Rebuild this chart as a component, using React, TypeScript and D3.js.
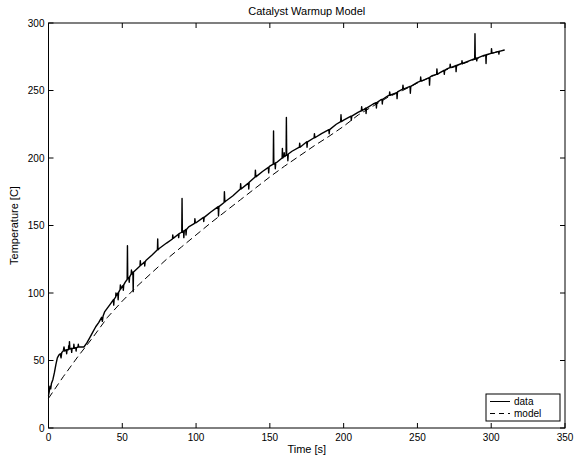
import React from "react";
import * as d3 from "d3";

const W = 584;
const H = 462;

const titleText = "Catalyst Warmup Model";
const xLabel = "Time [s]";
const yLabel = "Temperature [C]";
const xTicks = [0, 50, 100, 150, 200, 250, 300, 350];
const yTicks = [0, 50, 100, 150, 200, 250, 300];
const legendNames = ["data", "model"];

// Measured data (time [s], temperature [C]) including the sensor spikes
const dataPoints: [number, number][] = [
  [0, 24], [0.5, 27], [1, 31], [1.5, 29], [2, 33], [3, 36], [4, 41], [5, 47], [6, 52], [7, 54], [8, 55],
  [8.5, 52], [9, 56], [10, 57], [10.5, 60], [11, 57], [12, 58], [12.3, 55], [12.6, 58], [13.5, 58],
  [13.7, 61], [14, 58.5], [14.2, 64], [14.5, 58.5], [15.5, 59], [15.7, 56], [16, 59], [17, 59], [17.2, 62],
  [17.5, 59], [18.5, 59.5], [18.7, 57], [19, 59.5], [20, 60], [20.2, 62], [20.5, 60], [22, 60], [24, 60],
  [26, 63], [28, 67], [30, 71], [32, 75], [34, 78], [36, 82], [36.5, 79], [37, 83], [38, 86], [40, 89],
  [42, 92], [44, 95], [44.2, 91], [44.5, 95.5], [45.5, 97], [45.7, 100], [46, 98], [47, 100], [47.2, 95],
  [47.5, 100.5], [48.5, 102.5], [48.7, 106], [49, 103], [50, 105], [50.5, 105.5], [50.7, 102], [51, 106],
  [52, 108], [53.3, 110], [53.5, 135], [53.7, 110.5], [54.5, 111.5], [54.7, 108], [55, 112], [56, 114],
  [56.2, 117], [56.5, 114], [57.2, 115.5], [57.4, 101], [57.6, 115.5], [58, 116], [60, 118], [62, 120],
  [62.2, 124], [62.5, 120.5], [63, 121], [65, 123], [65.2, 120], [65.5, 123], [66, 124], [70, 128],
  [73.8, 132], [74, 140], [74.2, 132], [75, 133], [80, 137], [84, 140], [84.2, 143], [84.5, 140.5],
  [88, 143.5], [88.2, 141], [88.5, 144], [90.3, 145], [90.5, 170], [90.7, 145], [91.5, 146], [91.7, 141],
  [92, 146], [93, 147], [93.2, 143], [93.5, 147], [95, 149], [99, 151.5], [99.2, 155], [99.5, 152],
  [100, 152], [105, 156], [105.2, 153], [105.5, 156], [110, 160], [115, 164], [115.2, 157], [115.5, 164],
  [119, 167], [119.2, 175], [119.5, 167.5], [120, 168], [125, 172], [130, 177], [130.2, 181], [130.5, 177],
  [135, 181], [135.5, 181.5], [135.7, 177], [136, 182], [140, 186], [140.2, 191], [140.5, 186], [145, 190],
  [149, 193], [149.2, 189], [149.5, 193.5], [150, 194], [152.3, 195.5], [152.5, 220], [152.7, 195.5],
  [153.5, 196], [153.7, 192], [154, 196.5], [155, 197], [158.3, 200], [158.5, 207], [158.7, 200],
  [159.5, 201], [159.7, 204], [160, 201], [161, 202], [161.2, 230], [161.4, 202], [162, 202.5],
  [162.2, 198], [162.5, 203], [165, 205], [170, 208], [170.2, 211], [170.5, 208], [175, 212], [175.2, 208],
  [175.5, 212], [180, 215], [180.2, 218], [180.5, 215], [185, 218], [190, 221], [190.2, 218], [190.5, 221],
  [195, 225], [198, 227], [198.2, 232], [198.5, 227], [200, 228], [205, 231], [205.2, 228], [205.5, 231],
  [210, 234], [212, 235], [212.2, 238], [212.5, 235], [215, 237], [215.2, 233], [215.5, 237], [220, 240],
  [222, 241], [222.2, 237], [222.5, 241], [225, 243], [226, 243.5], [226.2, 240], [226.5, 243.5],
  [230, 246], [231, 246.5], [231.2, 249], [231.5, 246.5], [235, 248], [236, 248.5], [236.2, 244],
  [236.5, 249], [240, 251], [240.2, 254], [240.5, 251], [245, 253], [245.2, 248], [245.5, 253], [250, 256],
  [252, 257], [252.2, 260], [252.5, 257], [255, 258], [258, 259.5], [258.2, 254], [258.5, 260], [260, 261],
  [263, 262], [263.2, 266], [263.5, 262], [265, 263], [268, 265], [268.2, 262], [268.5, 265], [270, 266],
  [272, 267], [272.2, 269.5], [272.5, 267], [275, 268], [276, 268.5], [276.2, 264], [276.5, 268.5],
  [280, 270], [280.2, 272], [280.5, 270], [285, 272], [288.8, 273.5], [289, 292], [289.2, 273.5], [290, 274],
  [290.2, 272], [290.5, 274], [295, 276], [296.3, 276.3], [296.5, 270], [296.7, 276.5], [300, 277.5],
  [300.2, 281], [300.5, 277.5], [305, 279], [305.2, 277], [305.5, 279], [309, 280],
];

// Model curve (time [s], temperature [C])
const modelPoints: [number, number][] = [
  [0, 22], [10, 38], [20, 53], [25, 60], [30, 67], [40, 82], [50, 94], [60, 105], [70, 115], [80, 125],
  [90, 134], [100, 143], [110, 152], [120, 160.5], [130, 169], [140, 177.5], [150, 186], [160, 194],
  [170, 201.5], [180, 209], [190, 216], [200, 223.5], [210, 232], [220, 238.5], [230, 245], [240, 250],
  [250, 255.5], [260, 260.5], [270, 265.5], [280, 269.5], [290, 273.5], [300, 277.5], [309, 280],
];

const left = 48.5;
const right = 565;
const top = 23;
const bottom = 428;

export default function App() {
  const x = d3.scaleLinear().domain([0, 350]).range([left, right]);
  const y = d3.scaleLinear().domain([0, 300]).range([bottom, top]);
  const line = d3
    .line<[number, number]>()
    .x((d) => x(d[0]))
    .y((d) => y(d[1]));
  const font = "'Liberation Sans', Arial, Helvetica, sans-serif";
  const tl = 5;
  const lx = 486;
  const ly = 394;
  return (
    <svg
      width={W}
      height={H}
      style={{ position: "fixed", left: 0, top: 0, background: "#fff" }}
      fontFamily={font}
    >
      <rect x={0} y={0} width={W} height={H} fill="#fff" />
      <path d={line(modelPoints) || ""} fill="none" stroke="#000" strokeWidth={1} strokeDasharray="7,4" />
      <path d={line(dataPoints) || ""} fill="none" stroke="#000" strokeWidth={1.4} strokeLinejoin="round" />
      <rect x={left} y={top} width={right - left} height={bottom - top} fill="none" stroke="#000" strokeWidth={1} />
      {xTicks.map((t) => (
        <g key={"x" + t}>
          <line x1={x(t)} x2={x(t)} y1={bottom} y2={bottom - tl} stroke="#000" />
          <line x1={x(t)} x2={x(t)} y1={top} y2={top + tl} stroke="#000" />
          <text x={x(t)} y={bottom + 13} fontSize={10} textAnchor="middle">
            {t}
          </text>
        </g>
      ))}
      {yTicks.map((t) => (
        <g key={"y" + t}>
          <line x1={left} x2={left + tl} y1={y(t)} y2={y(t)} stroke="#000" />
          <line x1={right} x2={right - tl} y1={y(t)} y2={y(t)} stroke="#000" />
          <text x={left - 4} y={y(t) + 3.5} fontSize={10} textAnchor="end">
            {t}
          </text>
        </g>
      ))}
      <text x={(left + right) / 2} y={15} fontSize={11} textAnchor="middle">
        {titleText}
      </text>
      <text x={(left + right) / 2} y={453} fontSize={11} textAnchor="middle">
        {xLabel}
      </text>
      <text
        transform={`translate(18,${(top + bottom) / 2}) rotate(-90)`}
        fontSize={11}
        textAnchor="middle"
      >
        {yLabel}
      </text>
      <g>
        <rect x={lx} y={ly} width={74} height={27} fill="#fff" stroke="#000" strokeWidth={1} />
        <line x1={lx + 4} x2={lx + 24} y1={ly + 7.5} y2={ly + 7.5} stroke="#000" strokeWidth={1} />
        <text x={lx + 28} y={ly + 11} fontSize={10}>
          {legendNames[0]}
        </text>
        <line x1={lx + 4} x2={lx + 24} y1={ly + 19.5} y2={ly + 19.5} stroke="#000" strokeWidth={1} strokeDasharray="5,4" />
        <text x={lx + 28} y={ly + 23} fontSize={10}>
          {legendNames[1]}
        </text>
      </g>
    </svg>
  );
}
